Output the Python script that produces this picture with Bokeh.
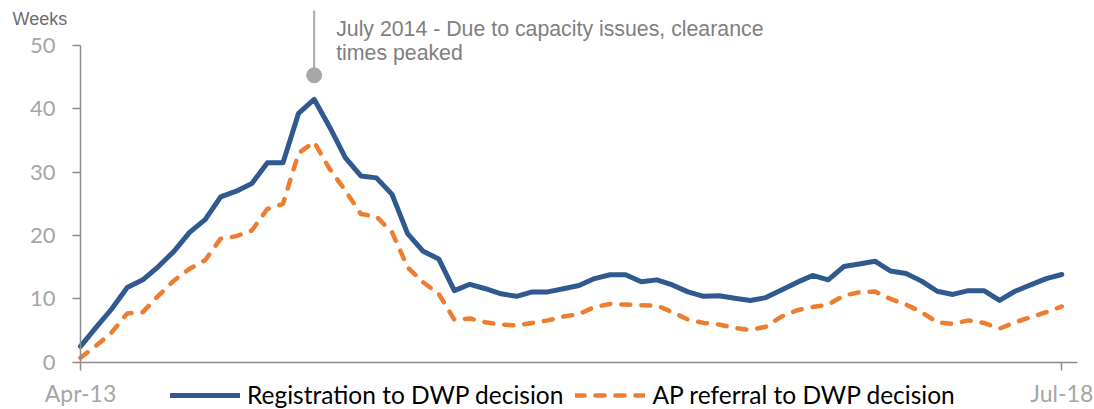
from bokeh.plotting import figure
from bokeh.models import Range1d, FixedTicker, Label, Legend, LegendItem, ColumnDataSource
from bokeh.embed import file_html
from bokeh.resources import INLINE
import pandas as pd

# ---- data ----
months = [d.strftime("%b-%y") for d in pd.date_range("2013-04-01", "2018-07-01", freq="MS")]

registration = [2.5, 5.5, 8.4, 11.8, 13.0, 15.1, 17.5, 20.5, 22.5, 26.1,
                27.0, 28.2, 31.5, 31.5, 39.3, 41.5, 37.1, 32.3, 29.4, 29.1,
                26.5, 20.3, 17.5, 16.3, 11.3, 12.3, 11.6, 10.8, 10.4, 11.1,
                11.1, 11.6, 12.1, 13.2, 13.8, 13.8, 12.7, 13.0, 12.2, 11.1,
                10.4, 10.5, 10.1, 9.75, 10.2, 11.4, 12.6, 13.7, 13.0, 15.1,
                15.5, 15.95, 14.4, 14.0, 12.8, 11.2, 10.7, 11.3, 11.3, 9.75,
                11.2, 12.2, 13.2, 13.85]

ap_referral = [0.7, 2.6, 4.7, 7.7, 7.9, 10.5, 12.9, 14.75, 16.1, 19.5,
               19.9, 20.8, 24.2, 25.0, 33.0, 34.75, 30.5, 27.1, 23.4, 23.0,
               20.5, 15.0, 12.6, 10.8, 6.7, 6.9, 6.3, 5.95, 5.8, 6.2,
               6.6, 7.2, 7.6, 8.7, 9.2, 9.1, 9.0, 8.95, 7.9, 6.75,
               6.2, 5.95, 5.4, 5.1, 5.6, 7.2, 8.2, 8.7, 9.1, 10.5,
               11.05, 11.15, 10.0, 9.1, 7.9, 6.3, 6.05, 6.6, 6.2, 5.3,
               6.3, 7.1, 7.9, 8.8]

series_names = ["Registration to DWP decision", "AP referral to DWP decision"]
y_ticks = [0, 10, 20, 30, 40, 50]
peak_index = months.index("Jul-14")
annotation_lines = ["July 2014 - Due to capacity issues, clearance", "times peaked"]
y_title = "Weeks"

# ---- layout (pixels) ----
W, H = 1094, 409
X_FIRST, X_LAST = 80.0, 1061.3      # pixel x of first / last month
Y_ZERO, Y_TOP = 361.7, 45.0         # pixel y of 0 and 50
Y_MAX = 50
n = len(months)
ppx = (X_LAST - X_FIRST) / (n - 1)
ppy = (Y_ZERO - Y_TOP) / Y_MAX
x_start = -X_FIRST / ppx
x_end = x_start + W / ppx
y_end = Y_MAX + Y_TOP / ppy
y_start = -(H - Y_ZERO) / ppy

BLUE = "#30598F"
ORANGE = "#ED7D31"
AXIS = "#8C8C8C"
TICKTXT = "#A6A6A6"
FONT = "Lato"

x = list(range(n))
src = ColumnDataSource(dict(x=x, reg=registration, ap=ap_referral))

p = figure(width=W, height=H, output_backend="svg", toolbar_location=None,
           x_range=Range1d(x_start, x_end), y_range=Range1d(y_start, y_end),
           min_border=0, min_border_left=0, min_border_right=0,
           min_border_top=0, min_border_bottom=0)
p.outline_line_color = None
p.grid.visible = False
p.background_fill_color = "white"
p.border_fill_color = "white"

r1 = p.line("x", "reg", source=src, line_color=BLUE, line_width=5,
            line_join="round", line_cap="round")
r2 = p.line("x", "ap", source=src, line_color=ORANGE, line_width=4.5,
            line_dash="9 11", line_join="round", line_cap="round")

# y axis
ya = p.yaxis[0]
ya.fixed_location = 0
ya.bounds = (0, Y_MAX)
ya.ticker = FixedTicker(ticks=y_ticks)
ya.axis_line_color = AXIS
ya.axis_line_width = 1.5
ya.major_tick_line_color = AXIS
ya.major_tick_line_width = 1.5
ya.major_tick_out = 8
ya.major_tick_in = 0
ya.minor_tick_line_color = None
ya.major_label_text_font = FONT
ya.major_label_text_font_size = "22px"
ya.major_label_text_color = TICKTXT
ya.major_label_standoff = 17

# x axis
xa = p.xaxis[0]
xa.fixed_location = 0
xa.bounds = (0, n)
xa.ticker = FixedTicker(ticks=[0, n - 1])
xa.major_label_overrides = {0: months[0], n - 1: months[-1]}
xa.axis_line_color = AXIS
xa.axis_line_width = 1.5
xa.major_tick_line_color = AXIS
xa.major_tick_line_width = 1.5
xa.major_tick_out = 8
xa.major_tick_in = 0
xa.minor_tick_line_color = None
xa.major_label_text_font = FONT
xa.major_label_text_font_size = "23px"
xa.major_label_text_color = TICKTXT
xa.major_label_standoff = 9

# y title
p.add_layout(Label(x=0, y=Y_MAX, x_offset=-68, y_offset=27, text=y_title,
                   text_align="left", text_baseline="alphabetic",
                   text_font="Liberation Sans", text_font_size="18px",
                   text_color="#6E6E6E"))

# annotation
ann_y = registration[peak_index] + 3.8
p.segment(x0=[peak_index], y0=[ann_y], x1=[peak_index], y1=[Y_MAX + 35 / ppy],
          line_color="#ABABAB", line_width=2)
p.scatter([peak_index], [ann_y], size=15, color="#A6A6A6")
p.add_layout(Label(x=peak_index, y=Y_MAX, x_offset=22, y_offset=17,
                   text=annotation_lines[0], text_align="left",
                   text_baseline="alphabetic", text_font="Liberation Sans",
                   text_font_size="21.3px", text_color="#7F7F7F"))
p.add_layout(Label(x=peak_index, y=Y_MAX, x_offset=22, y_offset=-7.5,
                   text=annotation_lines[1], text_align="left",
                   text_baseline="alphabetic", text_font="Liberation Sans",
                   text_font_size="21.3px", text_color="#7F7F7F"))

# legend
legend = Legend(items=[LegendItem(label=series_names[0], renderers=[r1]),
                       LegendItem(label=series_names[1], renderers=[r2])],
                orientation="horizontal", location=(170, 0),
                glyph_width=70, glyph_height=28, label_standoff=7, spacing=12,
                padding=0, margin=0, border_line_alpha=0,
                background_fill_alpha=0, label_text_font=FONT,
                label_text_font_size="24.5px", label_text_color="#000000",
                label_height=28)
p.add_layout(legend, "center")

open("out.html", "w").write(file_html(p, INLINE))
